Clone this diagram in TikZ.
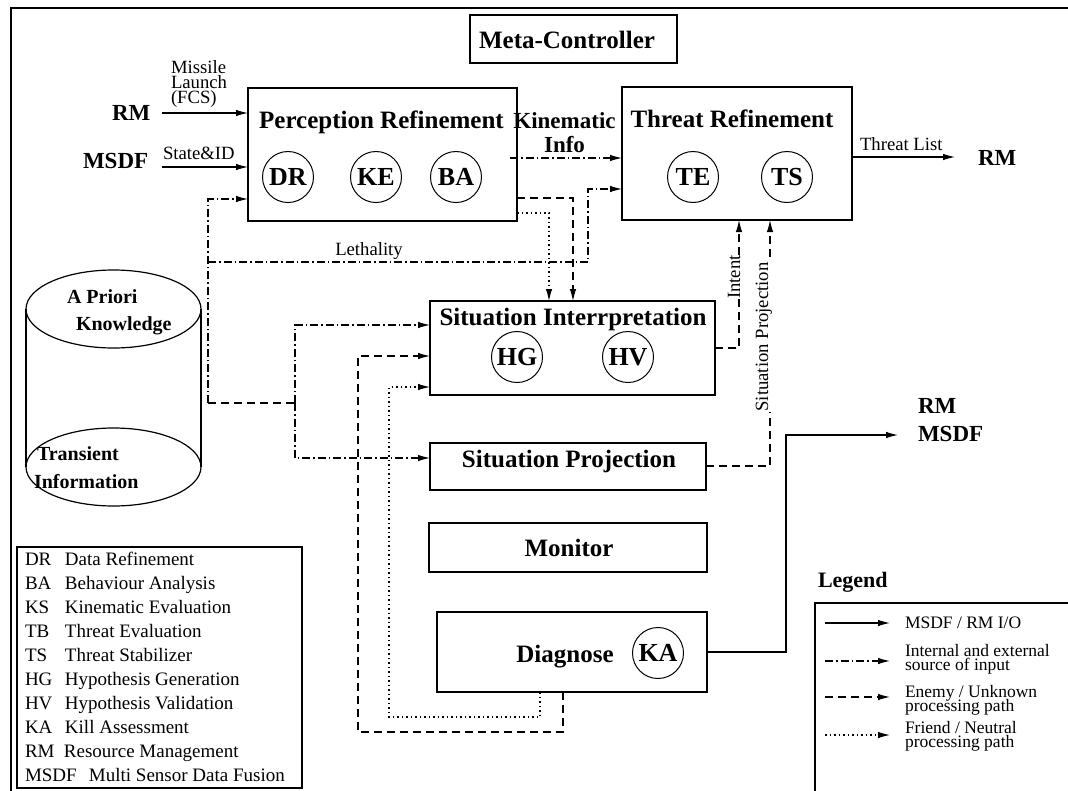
\documentclass[tikz,border=0pt]{standalone}
\usepackage{fontspec}
\setmainfont{Liberation Serif}
\usetikzlibrary{arrows.meta}
\begin{document}
\begin{tikzpicture}[x=1pt,y=-1pt,
  every node/.style={inner sep=0pt, outer sep=0pt},
  blk/.style={draw, line width=1.3pt, rectangle},
  title/.style={font=\fontsize{25}{28}\selectfont\bfseries, anchor=base},
  circ/.style={draw, circle, line width=1pt, minimum size=51pt, font=\fontsize{26}{28}\selectfont\bfseries},
  port/.style={font=\fontsize{23}{26}\selectfont\bfseries, anchor=base west},
  lbl/.style={font=\fontsize{18.7}{20}\selectfont, anchor=base west},
  store/.style={font=\fontsize{20}{24}\selectfont\bfseries, anchor=base west},
  key/.style={font=\fontsize{19}{22}\selectfont, anchor=base west},
  keysm/.style={font=\fontsize{17.5}{13}\selectfont, anchor=base west},
  wire/.style={line width=1.1pt},
  tip/.style={-{Latex[length=12pt,width=6.5pt]}},
  io/.style={wire, tip},
  dd/.style={wire, dash pattern=on 8pt off 3pt on 1.5pt off 3pt},
  dsh/.style={wire, dash pattern=on 8pt off 5pt},
  dts/.style={wire, dash pattern=on 1.5pt off 3pt},
]
\clip (0,0) rectangle (1068,790);

% outer frame
\draw[line width=1.3pt] (11,800) -- (11,8) -- (1080,8);

% ---------- processing blocks ----------
\node[blk, minimum width=207pt, minimum height=48pt] (MC) at (573.5,39) {};
\node[title] (MCt) at (567,48) {Meta-Controller};

\node[blk, minimum width=269pt, minimum height=133pt] (PR) at (382.5,154.5) {};
\node[title] (PRt) at (381.5,128) {Perception Refinement};
\node[circ] (DR) at (288,177) {DR};
\node[circ] (KE) at (376,177) {KE};
\node[circ] (BA) at (456,177) {BA};

\node[blk, minimum width=230pt, minimum height=133pt] (TR) at (737,153.5) {};
\node[title] (TRt) at (732,127) {Threat Refinement};
\node[circ] (TE) at (693,177) {TE};
\node[circ] (TS) at (787,177) {TS};

\node[blk, minimum width=285pt, minimum height=94pt] (SI) at (572.5,348) {};
\node[title] (SIt) at (573,325) {Situation Interrpretation};
\node[circ] (HG) at (517,357) {HG};
\node[circ] (HV) at (628,357) {HV};

\node[blk, minimum width=276pt, minimum height=47pt] (SP) at (568,466.5) {};
\node[title] (SPt) at (569,467) {Situation Projection};

\node[blk, minimum width=278pt, minimum height=49pt] (MON) at (568,547.5) {};
\node[title] (MONt) at (569,556) {Monitor};

\node[blk, minimum width=270pt, minimum height=80pt] (DG) at (572,652) {};
\node[title] (DGt) at (565,662) {Diagnose};
\node[circ] (KA) at (658,653) {KA};

% ---------- knowledge store ----------
\draw[line width=1.2pt] (113.5,309) ellipse [x radius=87.5pt, y radius=39pt];
\draw[line width=1.2pt] (113.5,467) ellipse [x radius=87.5pt, y radius=39pt];
\draw[line width=1.2pt] (26,309) -- (26,467) (201,309) -- (201,467);
\node[store] (ap1) at (67,303) {A Priori};
\node[store] (ap2) at (76,330) {Knowledge};
\node[store] (tr1) at (37,460) {Transient};
\node[store] (tr2) at (34,488) {Information};

% ---------- external inputs ----------
\node[port] (RMin) at (112,120) {RM};
\node[port] (MSDFin) at (83,168) {MSDF};
\node[lbl] (ml1) at (171,73) {Missile};
\node[lbl] (ml2) at (171,88) {Launch};
\node[lbl] (ml3) at (171,103) {(FCS)};
\node[lbl] (sid) at (163,159) {State\&ID};
\coordinate (rmA) at (162,113);
\coordinate (msA) at (162,167);
\draw[io] (rmA) -- (rmA -| PR.west);
\draw[io] (msA) -- (msA -| PR.west);

% ---------- outputs ----------
\node[port] (RMout) at (978,165) {RM};
\node[lbl] (tlist) at (860,150) {Threat List};
\coordinate (tlA) at (955,157);
\draw[io] (tlA -| TR.east) -- (tlA);

\node[port] (RMo2) at (918,413) {RM};
\node[port] (MSo2) at (918,441) {MSDF};
\coordinate (oa) at (786,652);
\coordinate (ob) at (786,435);
\coordinate (oc) at (898,435);
\draw[io] (DG.east) -- (oa) -- (ob) -- (oc);

% ---------- kinematic info ----------
\node[port, anchor=base] (kin1) at (564.5,128) {Kinematic};
\node[port, anchor=base] (kin2) at (564.5,152) {Info};
\coordinate (kA) at (510,158);
\draw[dd, tip] (kA) -- (kA -| TR.west);

% ---------- internal / external sources ----------
\coordinate (ja) at (208,199);
\coordinate (jb) at (208,403);
\coordinate (jc) at (295,403);
\coordinate (jd) at (295,325);
\coordinate (je) at (295,458);
\coordinate (jl) at (208,262);
\coordinate (jm) at (588,262);
\coordinate (jn) at (588,189);
\draw[dd, tip] (jb) -- (ja) -- (ja -| PR.west);
\draw[dd, tip] (jl) -- (jm) -- (jn) -- (jn -| TR.west);
\node[lbl, anchor=base] (leth) at (369,255) {Lethality};
\draw[dsh] (jb) -- (jc);
\draw[dd, tip] (jc) -- (jd) -- (jd -| SI.west);
\draw[dd, tip] (jc) -- (je) -- (je -| SP.west);

% ---------- perception to interpretation ----------
\coordinate (pa) at (573,198);
\coordinate (pb) at (549,213);
\draw[dsh, tip] (pa -| PR.east) -- (pa) -- (pa |- SI.north);
\draw[dts, tip] (pb -| PR.east) -- (pb) -- (pb |- SI.north);

% ---------- interpretation / projection to threat ----------
\coordinate (ia) at (739,348);
\coordinate (sa) at (770,466);
\draw[dsh, tip] (ia -| SI.east) -- (ia) -- (ia |- TR.south);
\draw[dsh, tip] (sa -| SP.east) -- (sa) -- (sa |- TR.south);
\node[lbl, anchor=center, rotate=90, fill=white, inner sep=0.5pt] (intent) at (734,277) {Intent};
\node[lbl, anchor=center, rotate=90, fill=white, inner sep=0.5pt] (sproj) at (764,337) {Situation Projection};

% ---------- diagnose feedback ----------
\coordinate (da) at (540,717);
\coordinate (db) at (389,717);
\coordinate (dc) at (389,387);
\draw[dts, tip] (da |- DG.south) -- (da) -- (db) -- (dc) -- (dc -| SI.west);
\coordinate (ea) at (563,732);
\coordinate (eb) at (358,732);
\coordinate (ec) at (358,356);
\draw[dsh, tip] (ea |- DG.south) -- (ea) -- (eb) -- (ec) -- (ec -| SI.west);

% ---------- abbreviations ----------
\draw[line width=1.2pt] (17,547) rectangle (302,788);
\node[key] (k1) at (25,565.3) {\makebox[40pt][l]{DR}Data Refinement};
\node[key] (k2) at (25,589.3) {\makebox[40pt][l]{BA}Behaviour Analysis};
\node[key] (k3) at (25,613.3) {\makebox[40pt][l]{KS}Kinematic Evaluation};
\node[key] (k4) at (25,637.3) {\makebox[40pt][l]{TB}Threat Evaluation};
\node[key] (k5) at (25,661.3) {\makebox[40pt][l]{TS}Threat Stabilizer};
\node[key] (k6) at (25,685.3) {\makebox[40pt][l]{HG}Hypothesis Generation};
\node[key] (k7) at (25,709.3) {\makebox[40pt][l]{HV}Hypothesis Validation};
\node[key] (k8) at (25,733.3) {\makebox[40pt][l]{KA}Kill Assessment};
\node[key] (k9) at (25,757.3) {\makebox[39pt][l]{RM}Resource Management};
\node[key] (k10) at (25,781.3) {\makebox[64pt][l]{MSDF}Multi Sensor Data Fusion};

% ---------- legend ----------
\node[font=\fontsize{22}{26}\selectfont\bfseries, anchor=base west] (lgd) at (818,587) {Legend};
\draw[line width=1.2pt] (815,603) rectangle (1080,800);
\coordinate (s1a) at (825,623); \coordinate (s1b) at (890,623);
\coordinate (s2a) at (825,661); \coordinate (s2b) at (890,661);
\coordinate (s3a) at (825,697); \coordinate (s3b) at (890,697);
\coordinate (s4a) at (825,735); \coordinate (s4b) at (890,735);
\draw[io] (s1a) -- (s1b);
\draw[dd, tip] (s2a) -- (s2b);
\draw[dsh, tip] (s3a) -- (s3b);
\draw[dts, tip] (s4a) -- (s4b);
\node[keysm] (t1) at (905,628) {MSDF / RM I/O};
\node[keysm] (t2a) at (905,656) {Internal and external};
\node[keysm] (t2b) at (905,670) {source of input};
\node[keysm] (t3a) at (905,697) {Enemy / Unknown};
\node[keysm] (t3b) at (905,711) {processing path};
\node[keysm] (t4a) at (905,733) {Friend / Neutral};
\node[keysm] (t4b) at (905,747) {processing path};
\end{tikzpicture}
\end{document}
